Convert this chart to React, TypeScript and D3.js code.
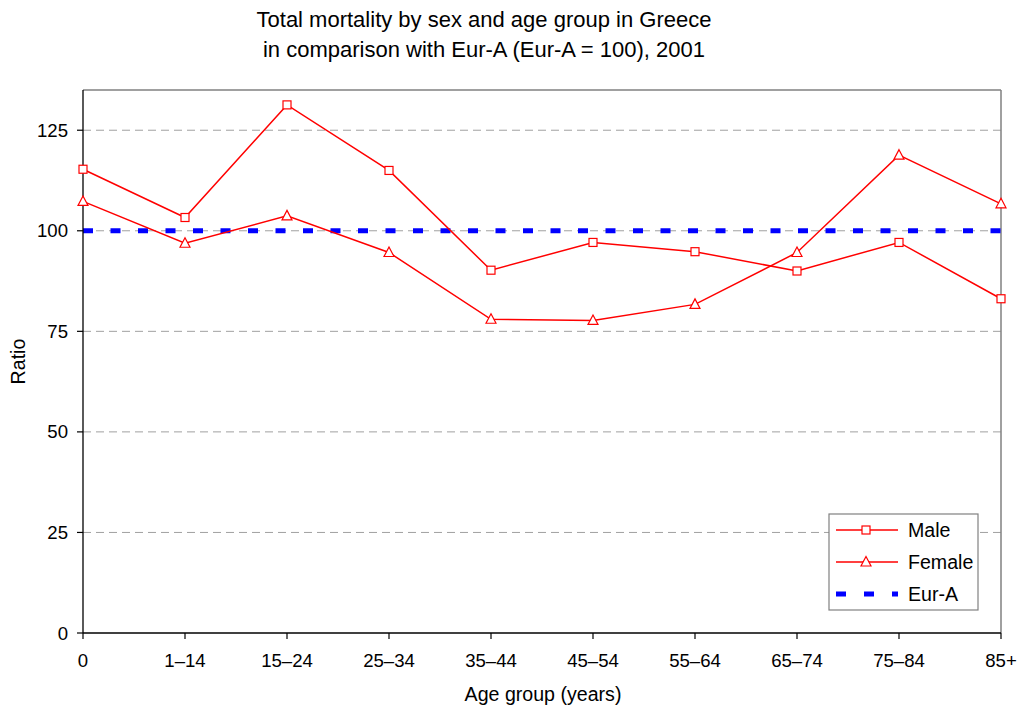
import React from "react";
import * as d3 from "d3";

// Age groups along the x axis
const ageGroups = ["0", "1–14", "15–24", "25–34", "35–44", "45–54", "55–64", "65–74", "75–84", "85+"];
// Mortality ratios (Eur-A = 100)
const maleValues = [115.3, 103.3, 131.3, 115.0, 90.2, 97.1, 94.8, 90.0, 97.1, 83.1];
const femaleValues = [107.3, 96.9, 103.7, 94.6, 78.0, 77.7, 81.7, 94.6, 118.8, 106.7];
const referenceValue = 100;
const yTicks = [0, 25, 50, 75, 100, 125];
const yMax = 135;

const W = 1025;
const H = 711;
const M = { left: 83, right: 1001, top: 90, bottom: 633 };
const FONT = "'Liberation Sans', Arial, sans-serif";

export default function App() {
  const x = d3.scalePoint<string>().domain(ageGroups).range([M.left, M.right]);
  const y = d3.scaleLinear().domain([0, yMax]).range([M.bottom, M.top]);
  const line = d3
    .line<number>()
    .x((_, i) => x(ageGroups[i]) as number)
    .y((d) => y(d));

  const square = (cx: number, cy: number, key: string) => (
    <rect key={key} x={cx - 4} y={cy - 4} width={8} height={8} fill="white" stroke="#ff0000" strokeWidth={1.2} />
  );
  const triangle = (cx: number, cy: number, key: string) => (
    <path
      key={key}
      d={`M${cx},${cy - 5.5}L${cx + 5},${cy + 4}L${cx - 5},${cy + 4}Z`}
      fill="white"
      stroke="#ff0000"
      strokeWidth={1.2}
    />
  );

  const legX = 829;
  const legY = 514;
  const legW = 149;
  const legH = 96;
  const rows = [legY + 16, legY + 48, legY + 80];

  return (
    <svg width={W} height={H} style={{ position: "absolute", left: 0, top: 0, fontFamily: FONT }}>
      <rect width={W} height={H} fill="white" />
      <text x={484} y={27} textAnchor="middle" fontSize={22} fill="#000">
        Total mortality by sex and age group in Greece
      </text>
      <text x={484} y={57} textAnchor="middle" fontSize={22} fill="#000">
        in comparison with Eur-A (Eur-A = 100), 2001
      </text>

      {/* horizontal gridlines */}
      {yTicks
        .filter((t) => t > 0)
        .map((t) => (
          <line key={t} x1={M.left} x2={M.right} y1={y(t)} y2={y(t)} stroke="#a0a0a0" strokeWidth={1} strokeDasharray="8,5" />
        ))}

      {/* plot frame: top and right edges */}
      <line x1={M.left} x2={M.right} y1={M.top} y2={M.top} stroke="#808080" strokeWidth={1.5} />
      <line x1={M.right} x2={M.right} y1={M.top} y2={M.bottom} stroke="#808080" strokeWidth={1.5} />

      {/* reference line */}
      <line
        x1={M.left}
        x2={M.right}
        y1={y(referenceValue)}
        y2={y(referenceValue)}
        stroke="#0000ff"
        strokeWidth={5}
        strokeDasharray="10,17.5"
      />

      {/* axes */}
      <line x1={M.left} x2={M.left} y1={M.top} y2={M.bottom} stroke="#000" strokeWidth={1.3} />
      <line x1={M.left} x2={M.right} y1={M.bottom} y2={M.bottom} stroke="#000" strokeWidth={1.3} />
      {yTicks.map((t) => (
        <g key={t}>
          <line x1={M.left - 6} x2={M.left} y1={y(t)} y2={y(t)} stroke="#000" strokeWidth={1.2} />
          <text x={68} y={y(t) + 6.5} textAnchor="end" fontSize={18.6} fill="#000">
            {t}
          </text>
        </g>
      ))}
      {ageGroups.map((g) => (
        <g key={g}>
          <line x1={x(g)} x2={x(g)} y1={M.bottom} y2={M.bottom + 6} stroke="#000" strokeWidth={1.2} />
          <text x={x(g)} y={667} textAnchor="middle" fontSize={18.6} fill="#000">
            {g}
          </text>
        </g>
      ))}
      <text x={543} y={701} textAnchor="middle" fontSize={19.6} fill="#000">
        Age group (years)
      </text>
      <text transform={`translate(25,${(M.top + M.bottom) / 2}) rotate(-90)`} textAnchor="middle" fontSize={19.6} fill="#000">
        Ratio
      </text>

      {/* series */}
      <path d={line(maleValues) as string} fill="none" stroke="#ff0000" strokeWidth={1.5} />
      <path d={line(femaleValues) as string} fill="none" stroke="#ff0000" strokeWidth={1.5} />
      {maleValues.map((v, i) => square(x(ageGroups[i]) as number, y(v), `m${i}`))}
      {femaleValues.map((v, i) => triangle(x(ageGroups[i]) as number, y(v), `f${i}`))}

      {/* legend */}
      <rect x={legX} y={legY} width={legW} height={legH} fill="white" stroke="#808080" strokeWidth={1.2} />
      <line x1={836} x2={898} y1={rows[0]} y2={rows[0]} stroke="#ff0000" strokeWidth={1.5} />
      {square(866, rows[0], "lm")}
      <line x1={836} x2={898} y1={rows[1]} y2={rows[1]} stroke="#ff0000" strokeWidth={1.5} />
      {triangle(866, rows[1], "lf")}
      <line x1={836} x2={898} y1={rows[2]} y2={rows[2]} stroke="#0000ff" strokeWidth={5} strokeDasharray="10,18" />
      {["Male", "Female", "Eur-A"].map((s, i) => (
        <text key={s} x={908} y={rows[i] + 7} fontSize={19.6} fill="#000">
          {s}
        </text>
      ))}
    </svg>
  );
}
